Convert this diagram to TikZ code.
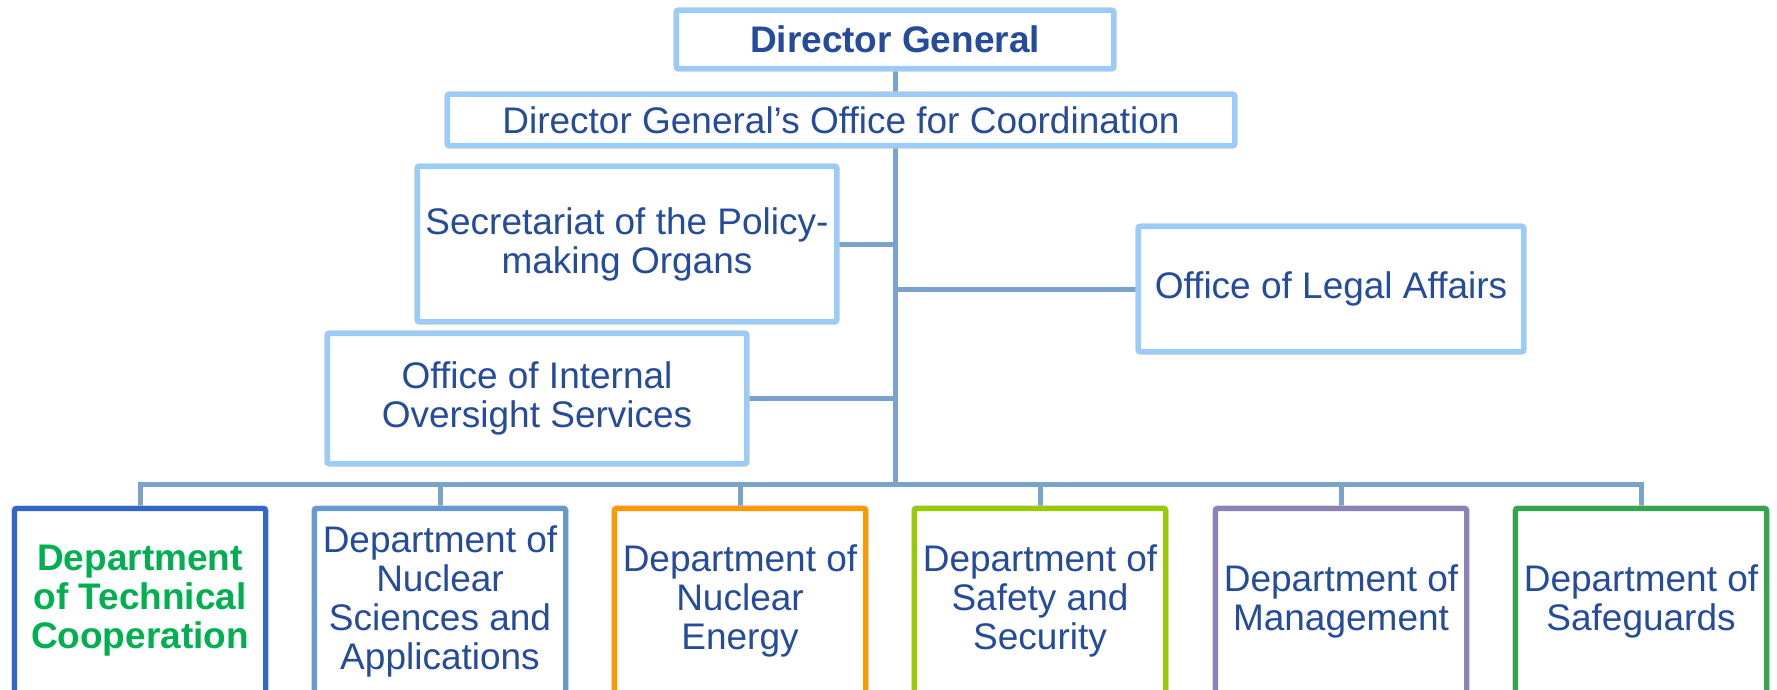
\documentclass[tikz,border=0pt]{standalone}
\usepackage{fontspec}
\setmainfont{Liberation Sans}
\usepackage{xcolor}
\usetikzlibrary{backgrounds}

\definecolor{boxblue}{RGB}{153,204,250}
\definecolor{linkblue}{RGB}{122,163,204}
\definecolor{textblue}{RGB}{37,75,155}
\definecolor{tcgreen}{RGB}{0,176,80}
\definecolor{tcblue}{RGB}{51,102,204}
\definecolor{nablue}{RGB}{102,153,204}
\definecolor{neorange}{RGB}{255,153,0}
\definecolor{nslime}{RGB}{153,204,0}
\definecolor{mtpurple}{RGB}{140,130,185}
\definecolor{sggreen}{RGB}{51,166,77}

\tikzset{
  office/.style={draw=boxblue, line width=2.5pt, fill=white, rounded corners=1pt,
    text=textblue, align=center, inner sep=2pt,
    font=\fontsize{18.5}{19.5}\selectfont,
    preaction={draw=black!22, line width=3.2pt}},
  dept/.style={office, minimum width=125.5pt, minimum height=92.5pt},
  link/.style={draw=linkblue, line width=2.5pt}
}

\begin{document}
\begin{tikzpicture}[x=0.5pt, y=-0.5pt]
\useasboundingbox (0,0) rectangle (1777,690);
\coordinate (bus) at (895,484);

\node[office, minimum width=218.5pt, minimum height=29pt,
      font=\fontsize{18.5}{19.5}\selectfont\bfseries] (dg) at (895,39.5) {Director General};
\node[office, minimum width=393.5pt, minimum height=25.5pt] (dgoc) at (841,120)
  {Director General’s Office for Coordination};
\node[office, minimum width=209.5pt, minimum height=77.5pt] (spmo) at (627,244)
  {Secretariat of the Policy-\\making Organs};
\node[office, minimum width=192.5pt, minimum height=62.5pt] (ola) at (1331,289)
  {Office of Legal Affairs};
\node[office, minimum width=209.5pt, minimum height=65pt] (oios) at (537,398.5)
  {Office of Internal\\Oversight Services};

\node[dept, draw=tcblue, text=tcgreen,
      font=\fontsize{18.5}{19.5}\selectfont\bfseries] (d1) at (140,601)
  {Department\\of Technical\\Cooperation};
\node[dept, draw=nablue] (d2) at (440,601)
  {Department of\\Nuclear\\Sciences and\\Applications};
\node[dept, draw=neorange] (d3) at (740,601)
  {Department of\\Nuclear\\Energy};
\node[dept, draw=nslime] (d4) at (1040,601)
  {Department of\\Safety and\\Security};
\node[dept, draw=mtpurple] (d5) at (1341,601)
  {Department of\\Management};
\node[dept, draw=sggreen] (d6) at (1641,601)
  {Department of\\Safeguards};

\begin{scope}[on background layer]
\draw[link] (dg) -- (dg |- bus);
\draw[link] (spmo) -- (spmo -| bus);
\draw[link] (oios) -- (oios -| bus);
\draw[link] (ola) -- (ola -| bus);
\draw[link] (d1) |- (bus) -| (d6);
\foreach \i in {2,...,5}
  \draw[link] (d\i) -- (d\i |- bus);
\end{scope}
\end{tikzpicture}
\end{document}
